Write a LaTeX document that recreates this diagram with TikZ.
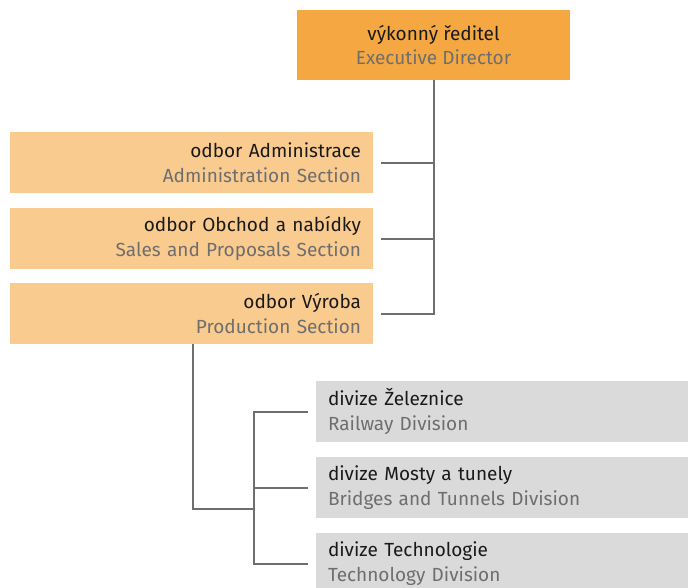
\documentclass[tikz,border=0pt]{standalone}
\usepackage{fontspec}
\setmainfont{Fira Sans}
\definecolor{topor}{HTML}{F5A842}
\definecolor{lightor}{HTML}{FACB8F}
\definecolor{boxgray}{HTML}{DADADA}
\definecolor{linegray}{HTML}{6E6E6E}
\definecolor{txtgray}{HTML}{6E6E6E}
\definecolor{txtdark}{HTML}{1A1A1A}
\tikzset{
  base/.style={inner ysep=0pt, outer sep=0pt, text=txtdark,
    font=\fontsize{19}{24.5}\selectfont},
  topbox/.style={base, fill=topor, minimum width=273pt, minimum height=70pt, align=center, anchor=north west},
  secbox/.style={base, fill=lightor, minimum width=363pt, minimum height=61pt, inner xsep=12pt, text width=339pt, align=right, anchor=north west},
  divbox/.style={base, fill=boxgray, minimum width=380pt, minimum height=61pt, inner xsep=12pt, text width=356pt, align=left, anchor=north west},
  conn/.style={draw=linegray, line width=2pt},
}
\newcommand{\en}[1]{\textcolor{txtgray}{#1}}
\begin{document}
\begin{tikzpicture}[x=1pt,y=-1pt]
\useasboundingbox (0,0) rectangle (688,587);
\node[topbox] (ed) at (297,10) {výkonný ředitel\\\en{Executive Director}};
\node[secbox] (a1) at (10,132) {odbor Administrace\\\en{Administration Section}};
\node[secbox] (a2) at (10,208) {odbor Obchod a nabídky\\\en{Sales and Proposals Section}};
\node[secbox] (a3) at (10,283) {odbor Výroba\\\en{Production Section}};
\node[divbox] (d1) at (316,381) {divize Železnice\\\en{Railway Division}};
\node[divbox] (d2) at (316,457) {divize Mosty a tunely\\\en{Bridges and Tunnels Division}};
\node[divbox] (d3) at (316,533) {divize Technologie\\\en{Technology Division}};
\coordinate (j) at (254,509);
% upper tree
\draw[conn] (ed.south) -- (ed.south |- a3.east) -- ([xshift=8pt]a3.east);
\draw[conn] ([xshift=8pt]a1.east) -- (ed.south |- a1.east);
\draw[conn] ([xshift=8pt]a2.east) -- (ed.south |- a2.east);
% lower tree
\draw[conn] ([xshift=1.5pt]a3.south) |- (j);
\draw[conn] ([xshift=-8pt]d1.west) -- (j |- d1.west) -- (j |- d3.west) -- ([xshift=-8pt]d3.west);
\draw[conn] ([xshift=-8pt]d2.west) -- (j |- d2.west);
\end{tikzpicture}
\end{document}
